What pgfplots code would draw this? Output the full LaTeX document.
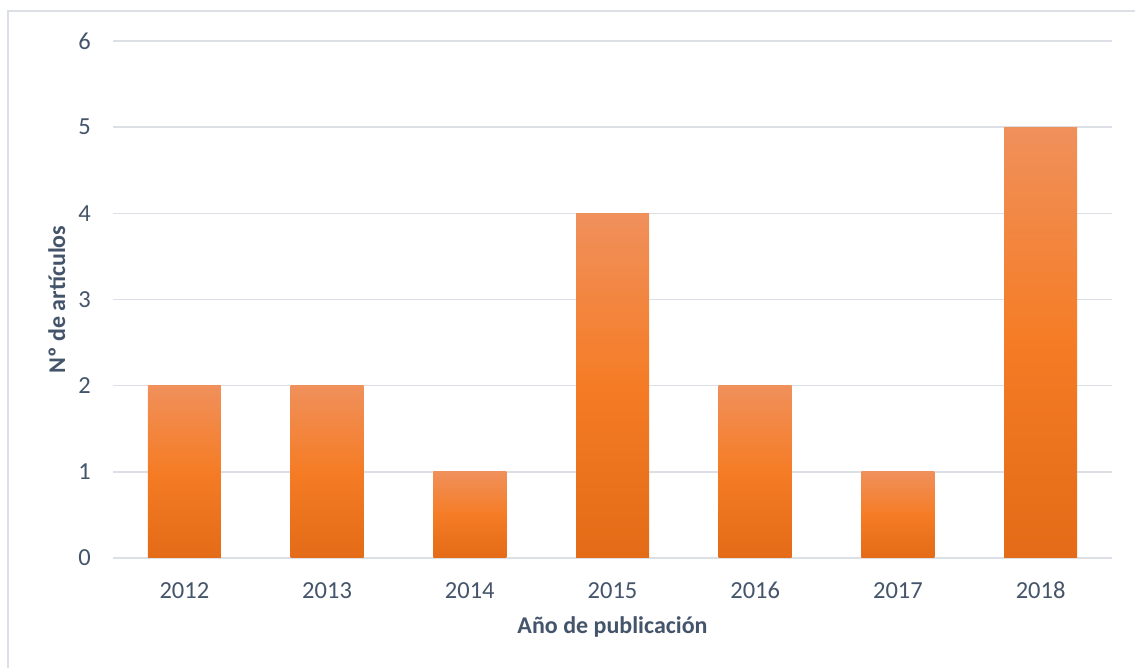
\documentclass[border=0pt]{standalone}
\usepackage{pgfplots}
\pgfplotsset{compat=1.18}
\usepackage{fontspec}
\setmainfont{Carlito}
\definecolor{txt}{HTML}{44546A}
\definecolor{gridc}{HTML}{DCE0E6}
\definecolor{bartop}{HTML}{F0905B}
\definecolor{barmid}{HTML}{F57C25}
\definecolor{barbot}{HTML}{E46B17}
\pgfdeclareverticalshading{barshade}{100bp}{color(0bp)=(barbot); color(25bp)=(barbot); color(50bp)=(barmid); color(75bp)=(bartop); color(100bp)=(bartop)}
\pgfplotsset{mybar/.style={ybar, bar width=73pt, bar shift=0pt, draw=none, shading=barshade, mark=none}}
\begin{document}
\begin{tikzpicture}[x=1pt,y=1pt]
\useasboundingbox (0,0) rectangle (1135,668);
\draw[gridc, line width=1.5pt] (8,-10) -- (8,657) -- (1145,657);
\begin{axis}[
  at={(113pt,110pt)}, anchor=south west,
  scale only axis, width=999pt, height=517pt,
  xmin=-0.5, xmax=6.5, ymin=0, ymax=6,
  xtick={0,...,6},
  xticklabels={2012,2013,2014,2015,2016,2017,2018},
  ytick={0,...,6},
  ymajorgrids,
  grid style={gridc, line width=1.4pt},
  axis line style={draw=none},
  major tick length=0pt,
  /pgf/number format/assume math mode=true,
  tick label style={font=\fontsize{24.5}{28}\selectfont, text=txt, inner sep=0pt},
  yticklabel style={anchor=east, xshift=-22pt},
  xticklabel style={anchor=north, yshift=-24pt},
  xlabel={Año de publicación},
  ylabel={Nº de artículos},
  label style={font=\fontsize{24}{28}\selectfont\bfseries, text=txt},
  xlabel style={at={(axis description cs:0.5,-0.147)}, anchor=base},
  ylabel style={at={(axis description cs:-0.048,0.5)}, anchor=base},
  clip=false,
]
\addplot[mybar] coordinates {(0,2)};
\addplot[mybar] coordinates {(1,2)};
\addplot[mybar] coordinates {(2,1)};
\addplot[mybar] coordinates {(3,4)};
\addplot[mybar] coordinates {(4,2)};
\addplot[mybar] coordinates {(5,1)};
\addplot[mybar] coordinates {(6,5)};
\end{axis}
\end{tikzpicture}
\end{document}
